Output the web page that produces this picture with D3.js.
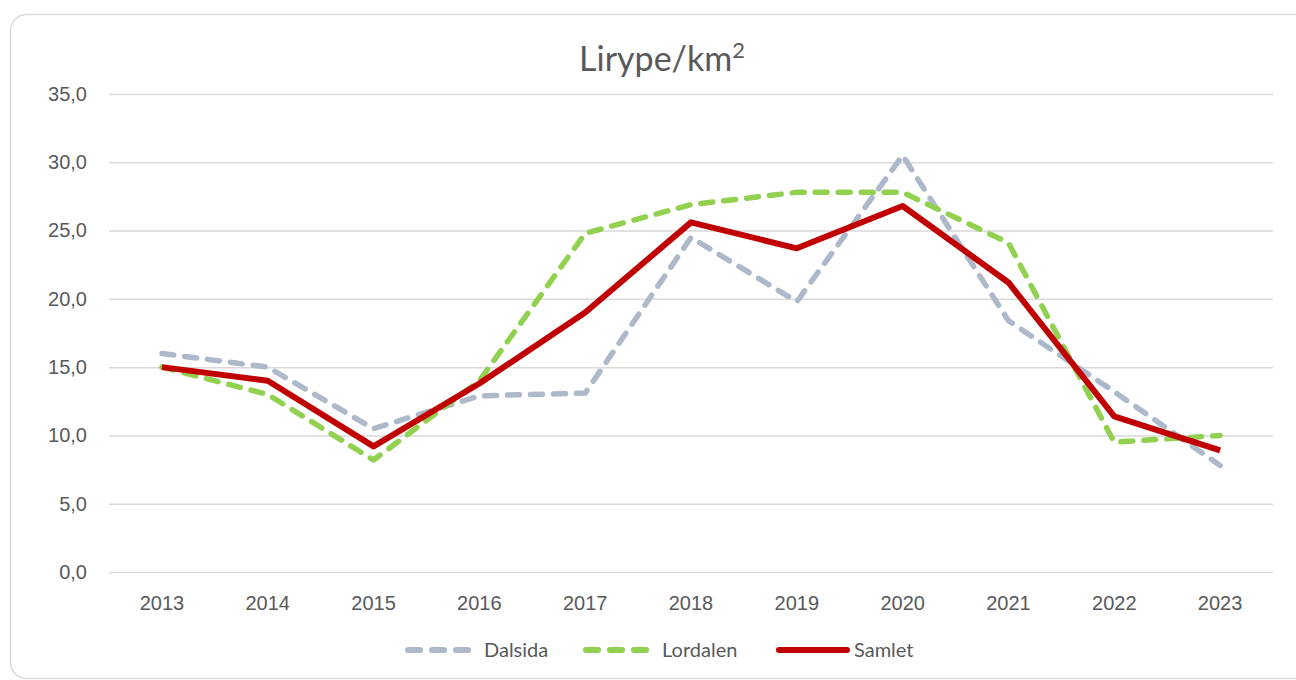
<!DOCTYPE html>
<html>
<head>
<meta charset="utf-8">
<script src="https://cdn.jsdelivr.net/npm/d3@7"></script>
<style>
  body { margin: 0; background: #fff; }
  svg { display: block; font-family: Lato, "Open Sans", sans-serif; }
  .axis path, .axis line { display: none; }
  .axis text { fill: #595959; font-size: 20px; }
  .grid line { stroke: #d9d9d9; stroke-width: 1.5; }
  .grid path { display: none; }
</style>
</head>
<body>
<div id="chart"></div>
<script>
// data
var years = ['2013', '2014', '2015', '2016', '2017', '2018', '2019', '2020', '2021', '2022', '2023'];
var dalsida = [16.0, 15.0, 10.5, 12.9, 13.1, 24.5, 19.8, 30.5, 18.4, 13.2, 7.8];
var lordalen = [15.0, 13.0, 8.2, 14.0, 24.8, 26.9, 27.8, 27.8, 24.1, 9.5, 10.0];
var samlet = [15.0, 14.0, 9.2, 13.8, 19.0, 25.6, 23.7, 26.8, 21.2, 11.4, 8.9];
var yTicks = [0, 5, 10, 15, 20, 25, 30, 35];

var series = [
  { name: 'Dalsida', values: dalsida, color: '#adb9ca', dash: '12,11', width: 5.5 },
  { name: 'Lordalen', values: lordalen, color: '#92d050', dash: '12,11', width: 5.5 },
  { name: 'Samlet', values: samlet, color: '#c00000', dash: null, width: 6 }
];

var width = 1296;
var height = 680;
var margin = { top: 94, right: 23, bottom: 108, left: 109 };
var w = width - margin.left - margin.right;
var h = height - margin.top - margin.bottom;

var svg = d3.select('#chart').append('svg')
  .attr('width', width).attr('height', height);

// chart frame
svg.append('rect')
  .attr('x', 10.5).attr('y', 14.5)
  .attr('width', 1300).attr('height', 664)
  .attr('rx', 16)
  .attr('fill', '#fff')
  .attr('stroke', '#d9d9d9')
  .attr('stroke-width', 1.5);

// title
var title = svg.append('text')
  .attr('x', 662).attr('y', 71)
  .attr('text-anchor', 'middle')
  .attr('fill', '#595959')
  .attr('font-size', 34);
title.append('tspan').text('Lirype/km');
title.append('tspan').attr('font-size', 22).attr('dy', -13).text('2');

var g = svg.append('g')
  .attr('transform', 'translate(' + margin.left + ',' + margin.top + ')');

var xScale = d3.scaleBand().domain(years).range([0, w]);
var yScale = d3.scaleLinear().domain([0, 35]).range([h, 0]);

// grid
g.append('g').attr('class', 'grid')
  .call(d3.axisLeft(yScale).tickValues(yTicks).tickSize(-w).tickFormat(''));

// y axis
var fmt = function(d) { return d3.format('.1f')(d).replace('.', ','); };
g.append('g').attr('class', 'axis')
  .attr('transform', 'translate(-4,0)')
  .call(d3.axisLeft(yScale).tickValues(yTicks).tickSize(0).tickPadding(18).tickFormat(fmt));

// x axis
g.append('g').attr('class', 'axis')
  .attr('transform', 'translate(0,' + h + ')')
  .call(d3.axisBottom(xScale).tickSize(0).tickPadding(24));

var line = d3.line()
  .x(function(d, i) { return xScale(years[i]) + xScale.bandwidth() / 2; })
  .y(function(d) { return yScale(d); });

g.selectAll('.series')
  .data(series)
  .enter()
  .append('path')
  .attr('class', 'series')
  .attr('d', function(d) { return line(d.values); })
  .attr('fill', 'none')
  .attr('stroke', function(d) { return d.color; })
  .attr('stroke-width', function(d) { return d.width; })
  .attr('stroke-dasharray', function(d) { return d.dash; })
  .attr('stroke-linecap', function(d) { return d.dash ? 'round' : 'butt'; })
  .attr('stroke-linejoin', 'round');

// legend
var legendItems = [
  { x: 408, len: 60, tx: 484 },
  { x: 586, len: 60, tx: 662 },
  { x: 779, len: 68, tx: 854 }
];
var legend = svg.append('g').attr('class', 'legend');
series.forEach(function(s, i) {
  var it = legendItems[i];
  legend.append('line')
    .attr('x1', it.x).attr('x2', it.x + it.len)
    .attr('y1', 650).attr('y2', 650)
    .attr('stroke', s.color)
    .attr('stroke-width', 6)
    .attr('stroke-dasharray', s.dash ? '12,12' : null)
    .attr('stroke-linecap', 'round');
  legend.append('text')
    .attr('x', it.tx).attr('y', 657)
    .attr('fill', '#595959')
    .attr('font-size', 20)
    .text(s.name);
});
</script>
</body>
</html>
